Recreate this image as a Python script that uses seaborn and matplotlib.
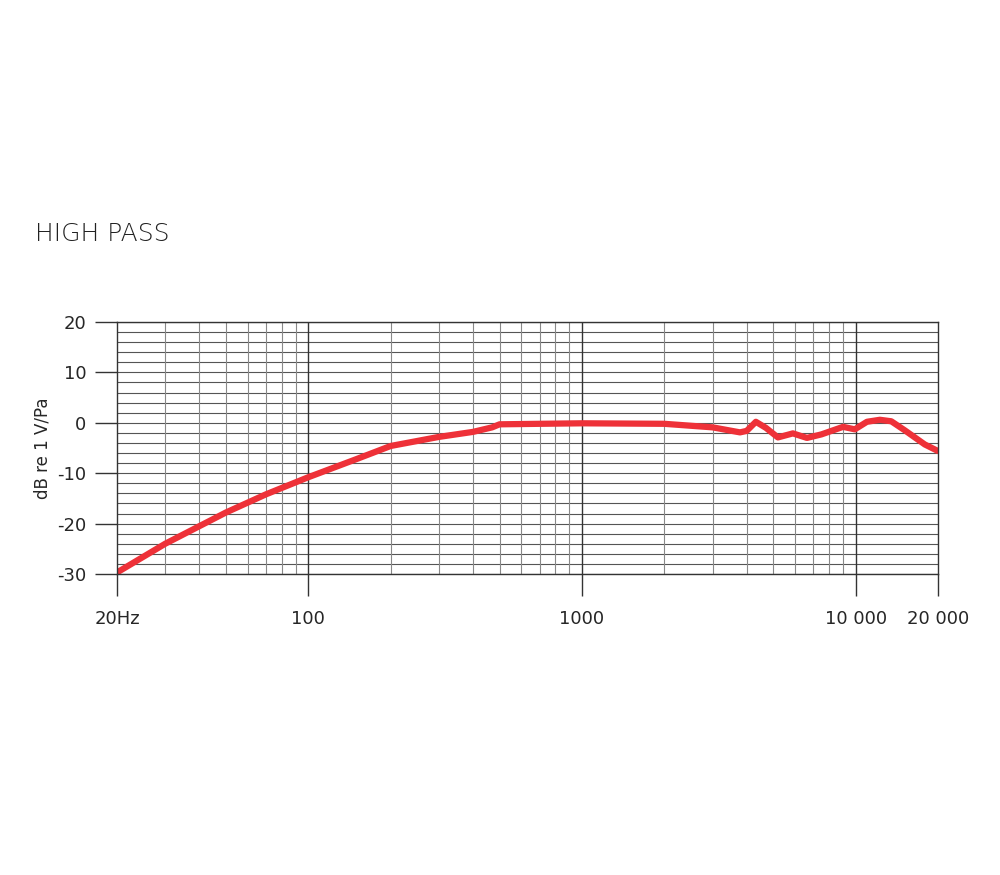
import matplotlib
matplotlib.use("Agg")
import matplotlib.pyplot as plt
import seaborn as sns
import numpy as np

freq = [20, 30, 50, 70, 100, 150, 200, 300, 400, 470, 500, 700, 1000, 2000, 3000, 3780, 4000, 4320, 4700, 5200, 5900, 6640, 7500, 9000, 9930, 11000, 12270, 13500, 15130, 17900, 20000]
db = [-29.7, -24.0, -17.8, -14.2, -10.8, -7.2, -4.6, -2.8, -1.8, -0.9, -0.3, -0.2, -0.1, -0.2, -0.9, -1.9, -1.6, 0.2, -1.0, -2.9, -2.1, -3.0, -2.3, -0.8, -1.3, 0.2, 0.6, 0.3, -1.5, -4.3, -5.6]
ytick_vals = [20, 10, 0, -10, -20, -30]
xtick_vals = [20, 100, 1000, 10000, 20000]
xtick_labels = ["20Hz", "100", "1000", "10 000", "20 000"]

sns.set_style("white")
plt.rcParams['font.family'] = ['DejaVu Sans']
fig = plt.figure(figsize=(10, 8.75), dpi=100)
ax = fig.add_axes([0.117, 0.344, 0.821, 0.288])
sns.lineplot(x=freq, y=db, ax=ax, color="#ee3138", linewidth=4.5, solid_capstyle="round")
ax.set_xscale("log")
ax.set_xlim(20, 20000)
ax.set_ylim(-30, 20)

for y in range(-30, 21, 2):
    ax.axhline(y, color="#555555", lw=0.8, zorder=0)
minors = [m * 10 ** e for e in range(1, 5) for m in range(2, 10) if 20 < m * 10 ** e < 20000]
for x in minors:
    ax.axvline(x, color="#888888", lw=0.8, zorder=0)
for x in [100, 1000, 10000]:
    ax.axvline(x, color="#333333", lw=1.0, zorder=0)
for s in ax.spines.values():
    s.set_color("#333333"); s.set_linewidth(1.0)

ax.set_yticks(ytick_vals)
ax.set_yticklabels([str(v) for v in ytick_vals], fontsize=13)
ax.set_xticks(xtick_vals)
ax.set_xticklabels(xtick_labels, fontsize=13)
ax.xaxis.set_minor_locator(matplotlib.ticker.NullLocator())
ax.tick_params(axis="y", length=16, width=1, color="#333333", pad=6, left=True)
ax.tick_params(axis="x", length=16, width=1, color="#333333", pad=10, bottom=True)
for lab in ax.get_xticklabels():
    lab.set_letter_spacing = None
ax.set_ylabel("dB re 1 V/Pa", fontsize=12, labelpad=4)
fig.text(0.035, 0.725, "HIGH PASS", fontsize=18, fontweight="light", color="#222222")
fig.savefig("out.png", dpi=100)
